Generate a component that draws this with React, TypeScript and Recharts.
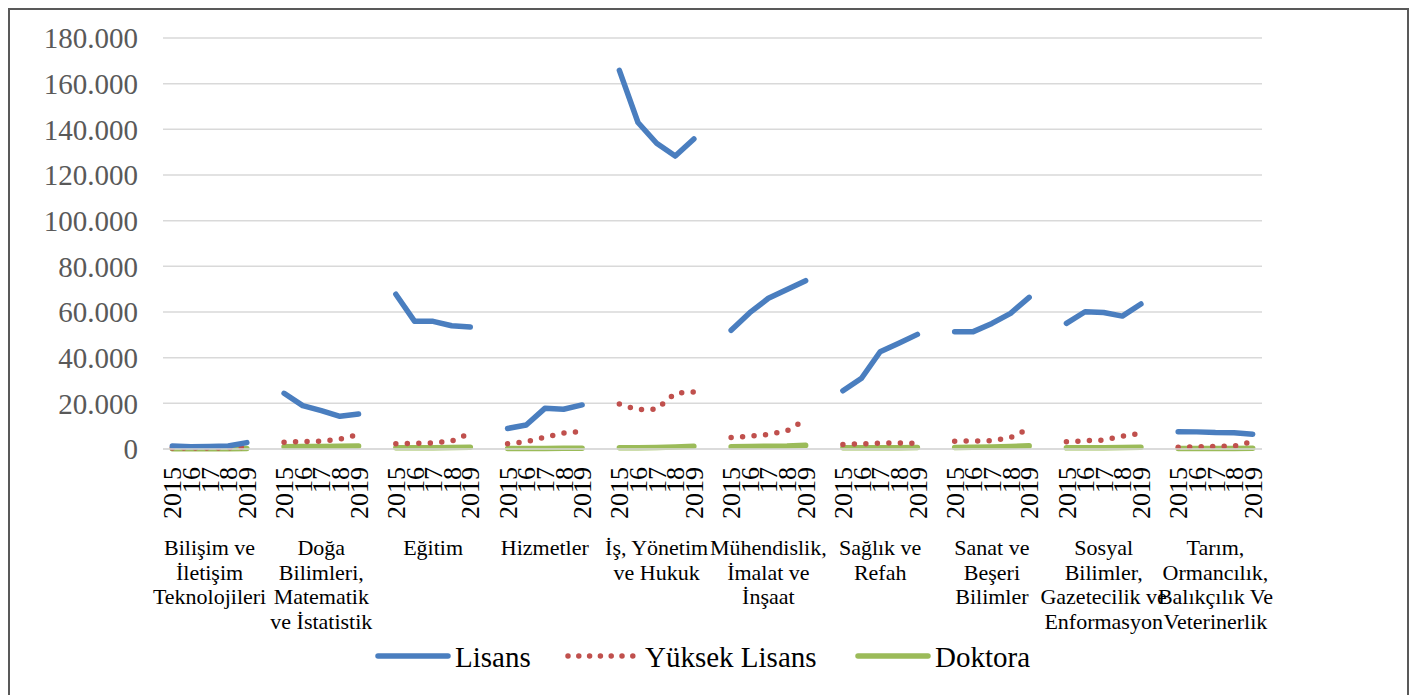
import React from "react";
import { LineChart, Line, XAxis, YAxis, CartesianGrid, Legend } from "recharts";

const groupLabels: string[][] = [
  ["Bilişim ve", "İletişim", "Teknolojileri"],
  ["Doğa", "Bilimleri,", "Matematik", "ve İstatistik"],
  ["Eğitim"],
  ["Hizmetler"],
  ["İş, Yönetim", "ve Hukuk"],
  ["Mühendislik,", "İmalat ve", "İnşaat"],
  ["Sağlık ve", "Refah"],
  ["Sanat ve", "Beşeri", "Bilimler"],
  ["Sosyal", "Bilimler,", "Gazetecilik ve", "Enformasyon"],
  ["Tarım,", "Ormancılık,", "Balıkçılık Ve", "Veterinerlik"],
];

const years = ["2015", "2016", "2017", "2018", "2019"];
const yearTickLabels = ["2015", "16", "17", "18", "2019"];

const lisans: number[][] = [
  [1300, 1000, 1100, 1300, 2800],
  [24400, 19000, 16800, 14300, 15300],
  [67800, 56000, 55900, 54000, 53400],
  [9000, 10500, 17800, 17400, 19300],
  [165800, 143000, 133900, 128300, 135800],
  [52000, 59700, 66000, 69900, 73700],
  [25500, 31000, 42600, 46300, 50200],
  [51400, 51400, 55000, 59400, 66400],
  [55000, 60100, 59800, 58200, 63500],
  [7600, 7500, 7200, 7100, 6500],
];

const yuksekLisans: number[][] = [
  [400, 400, 400, 500, 700],
  [3000, 3200, 3400, 4300, 6300],
  [2300, 2500, 2600, 3500, 7000],
  [2300, 3200, 5200, 7000, 7700],
  [19700, 17200, 17500, 24400, 25000],
  [5000, 5600, 6400, 8000, 12800],
  [2000, 2300, 2500, 2700, 2400],
  [3400, 3500, 3600, 5000, 9000],
  [3200, 3600, 3900, 5600, 6900],
  [800, 1000, 1100, 1300, 3300],
];

const doktora: number[][] = [
  [100, 100, 100, 150, 200],
  [1000, 1100, 1100, 1200, 1300],
  [600, 600, 600, 700, 800],
  [200, 200, 250, 300, 300],
  [600, 600, 700, 900, 1200],
  [1000, 1100, 1200, 1300, 1600],
  [500, 500, 500, 600, 700],
  [700, 800, 900, 1100, 1400],
  [500, 600, 600, 700, 800],
  [200, 200, 200, 250, 300],
];

const yTicks = [0, 20000, 40000, 60000, 80000, 100000, 120000, 140000, 160000, 180000];

type Row = {
  id: number;
  g: number | null;
  yi: number | null;
  year: string | null;
  lisans: number | null;
  yuksek: number | null;
  doktora: number | null;
};

const rows: Row[] = [];
groupLabels.forEach((_, g) => {
  years.forEach((yr, yi) => {
    rows.push({
      id: rows.length,
      g,
      yi,
      year: yr,
      lisans: lisans[g][yi],
      yuksek: yuksekLisans[g][yi],
      doktora: doktora[g][yi],
    });
  });
  if (g < groupLabels.length - 1) {
    rows.push({ id: rows.length, g: null, yi: null, year: null, lisans: null, yuksek: null, doktora: null });
  }
});

const BLUE = "#4a7ebf";
const RED = "#c0504d";
const GREEN = "#9bbb59";
const SERIF = "Liberation Serif, Times New Roman, serif";

const XTick = (props: any) => {
  const { x, y, payload } = props;
  const row = rows[payload.value];
  if (!row || row.g === null || row.yi === null) return <g />;
  return (
    <g>
      <text
        transform={`translate(${x},${y + 18}) rotate(-90)`}
        textAnchor="end"
        dy="0.35em"
        fontSize={26}
        fontFamily={SERIF}
        fill="#000"
      >
        {yearTickLabels[row.yi]}
      </text>
      {row.yi === 2 &&
        groupLabels[row.g].map((line, i) => (
          <text
            key={i}
            x={x}
            y={y + 106 + i * 24.5}
            textAnchor="middle"
            fontSize={22}
            fontFamily={SERIF}
            fill="#000"
          >
            {line}
          </text>
        ))}
    </g>
  );
};

const YTick = (props: any) => {
  const { x, y, payload } = props;
  const v = payload.value as number;
  const label = v === 0 ? "0" : `${v / 1000}.000`;
  return (
    <text x={x} y={y} dy="0.36em" textAnchor="end" fontSize={29} fontFamily={SERIF} fill="#595959">
      {label}
    </text>
  );
};

const LegendContent = () => (
  <svg width={1397} height={50} style={{ display: "block" }}>
    <line x1={368} y1={16} x2={438} y2={16} stroke={BLUE} strokeWidth={5.5} strokeLinecap="round" />
    <text x={445} y={27} fontSize={29} fontFamily={SERIF} fill="#000">
      Lisans
    </text>
    <line
      x1={558}
      y1={16}
      x2={623}
      y2={16}
      stroke={RED}
      strokeWidth={5.5}
      strokeLinecap="round"
      strokeDasharray="0 10.8"
    />
    <text x={635} y={27} fontSize={29} fontFamily={SERIF} fill="#000">
      Yüksek Lisans
    </text>
    <line x1={848} y1={16} x2={918} y2={16} stroke={GREEN} strokeWidth={5.5} strokeLinecap="round" />
    <text x={925} y={27} fontSize={29} fontFamily={SERIF} fill="#000">
      Doktora
    </text>
  </svg>
);

export default function App() {
  return (
    <div style={{ border: "2px solid #595959", width: 1397, height: 700, background: "#fff" }}>
      <LineChart
        width={1397}
        height={680}
        data={rows}
        margin={{ top: 28, right: 145, left: 0, bottom: 0 }}
      >
        <CartesianGrid vertical={false} stroke="#d9d9d9" strokeWidth={1.5} />
        <XAxis
          dataKey="id"
          type="category"
          interval={0}
          tick={<XTick />}
          tickLine={false}
          tickSize={0}
          tickMargin={0}
          padding={{ left: 9.3, right: 9.3 }}
          axisLine={{ stroke: "#d9d9d9", strokeWidth: 1.5 }}
          height={191}
        />
        <YAxis
          domain={[0, 180000]}
          ticks={yTicks}
          tick={<YTick />}
          axisLine={false}
          tickLine={false}
          tickSize={0}
          tickMargin={25}
          width={153}
        />
        <Legend
          verticalAlign="bottom"
          content={<LegendContent />}
          wrapperStyle={{ left: 0, width: 1397, height: 50 }}
        />
        <Line
          dataKey="doktora"
          stroke={GREEN}
          strokeWidth={5.5}
          strokeLinecap="round"
          strokeLinejoin="round"
          dot={false}
          activeDot={false}
          isAnimationActive={false}
        />
        <Line
          dataKey="yuksek"
          stroke={RED}
          strokeWidth={5.5}
          strokeLinecap="round"
          strokeDasharray="0 11.5"
          dot={false}
          activeDot={false}
          isAnimationActive={false}
        />
        <Line
          dataKey="lisans"
          stroke={BLUE}
          strokeWidth={5.5}
          strokeLinecap="round"
          strokeLinejoin="round"
          dot={false}
          activeDot={false}
          isAnimationActive={false}
        />
      </LineChart>
    </div>
  );
}
